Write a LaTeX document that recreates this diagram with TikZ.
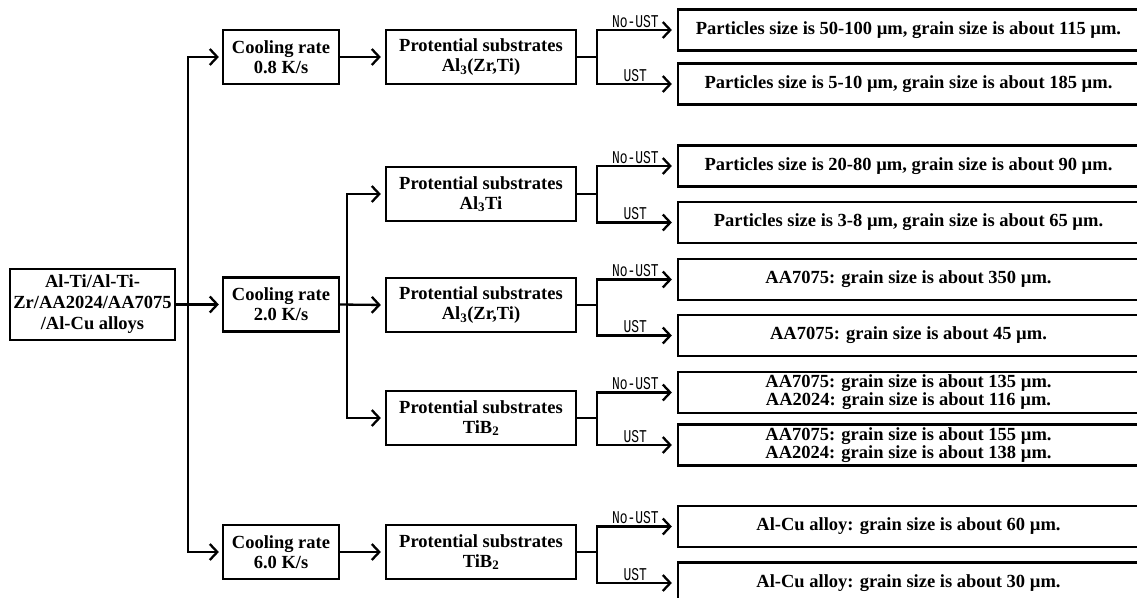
\documentclass[tikz,border=0pt]{standalone}
\usepackage{graphicx}
\usepackage{fontspec}
\setmainfont{Liberation Serif}
\newfontfamily\lblfont{Liberation Mono}
\usetikzlibrary{arrows.meta}
\newcommand\ustlabel[1]{\scalebox{0.72}[1]{\lblfont\fontsize{18}{18}\selectfont #1}}
\begin{document}
\begin{tikzpicture}[x=1pt,y=-1pt,
  box/.style={draw, line width=2.3pt, inner sep=0pt, align=center,
    font=\fontsize{18.5}{20}\selectfont\bfseries},
  cbox/.style={box, minimum width=116pt, minimum height=54pt},
  sbox/.style={box, minimum width=190pt, minimum height=54pt},
  rbox/.style={box, minimum width=461pt, minimum height=41pt},
  conn/.style={line width=2.3pt},
  tip/.tip={Straight Barb[length=7.5pt,width=16pt]},
  arr/.style={conn, -tip},
  dbl/.style={conn, tip-tip},
  lbl/.style={inner sep=1.5pt}]
\useasboundingbox (0,0) rectangle (1137,597);
\clip (0,0) rectangle (1137,597);
\fill[white] (0,0) rectangle (1137,597);

% left box
\node[box, minimum width=165pt, minimum height=71pt, font=\fontsize{18.5}{21}\selectfont\bfseries] (L) at (92.5,304.5)
  {Al-Ti/Al-Ti-\\Zr/AA2024/AA7075\\/Al-Cu alloys};

% cooling boxes
\node[cbox] (c1) at (281,57) {Cooling rate\\0.8 K/s};
\node[cbox] (c2) at (281,304.5) {Cooling rate\\2.0 K/s};
\node[cbox] (c3) at (281,552) {Cooling rate\\6.0 K/s};

% substrate boxes
\node[sbox] (s1) at (481,57) {Protential substrates\\Al\textsubscript{3}(Zr,Ti)};
\node[sbox] (s2) at (481,194) {Protential substrates\\Al\textsubscript{3}Ti};
\node[sbox] (s3) at (481,305) {Protential substrates\\Al\textsubscript{3}(Zr,Ti)};
\node[sbox] (s4) at (481,418) {Protential substrates\\TiB\textsubscript{2}};
\node[sbox] (s5) at (481,552) {Protential substrates\\TiB\textsubscript{2}};

% result boxes
\node[rbox] (rA) at (908.5,30) {Particles size is 50-100 \textmu m, grain size is about 115 \textmu m.};
\node[rbox] (rB) at (908.5,84) {Particles size is 5-10 \textmu m, grain size is about 185 \textmu m.};
\node[rbox] (rC) at (908.5,166) {Particles size is 20-80 \textmu m, grain size is about 90 \textmu m.};
\node[rbox] (rD) at (908.5,222.5) {Particles size is 3-8 \textmu m, grain size is about 65 \textmu m.};
\node[rbox] (rE) at (908.5,279.5) {AA7075: grain size is about 350 \textmu m.};
\node[rbox] (rF) at (908.5,335.5) {AA7075: grain size is about 45 \textmu m.};
\node[rbox, font=\fontsize{18.5}{18}\selectfont\bfseries] (rG) at (908.5,392.5) {AA7075: grain size is about 135 \textmu m.\\AA2024: grain size is about 116 \textmu m.};
\node[rbox, font=\fontsize{18.5}{18}\selectfont\bfseries] (rH) at (908.5,445) {AA7075: grain size is about 155 \textmu m.\\AA2024: grain size is about 138 \textmu m.};
\node[rbox] (rI) at (908.5,526.5) {Al-Cu alloy: grain size is about 60 \textmu m.};
\node[rbox] (rJ) at (908.5,583) {Al-Cu alloy: grain size is about 30 \textmu m.};

% trunk
\coordinate (tM) at (188,304.5);
\draw[dbl, shorten <=3pt, shorten >=3pt] (c1.west) -| (tM) |- (c3.west);
\draw[arr, shorten >=3pt] (L.east) -- (c2.west);

% cooling -> substrates
\coordinate (vM) at (347,304.5);
\draw[arr, shorten >=4pt] (c1.east) -- (s1.west);
\draw[arr, shorten >=4pt] (c3.east) -- (s5.west);
\draw[arr, shorten >=4pt] (c2.east) -- (s3.west);
\draw[dbl, shorten <=4pt, shorten >=4pt] (s2.west) -| (vM) |- (s4.west);

% substrates -> results
\coordinate (j1) at (597,57);
\coordinate (j2) at (597,194);
\coordinate (j3) at (597,305);
\coordinate (j4) at (597,418);
\coordinate (j5) at (597,552);
\foreach \s/\j/\a/\b in {s1/j1/rA/rB, s2/j2/rC/rD, s3/j3/rE/rF, s4/j4/rG/rH, s5/j5/rI/rJ}{
  \draw[conn] (\s.east) -- (\j);
  \draw[dbl, shorten <=5pt, shorten >=5pt] (\a.west) -| node[lbl, above, pos=0.26] {\ustlabel{No-UST}} (\j)
     |- node[lbl, above, pos=0.74] {\ustlabel{UST}} (\b.west);
}
\end{tikzpicture}
\end{document}
